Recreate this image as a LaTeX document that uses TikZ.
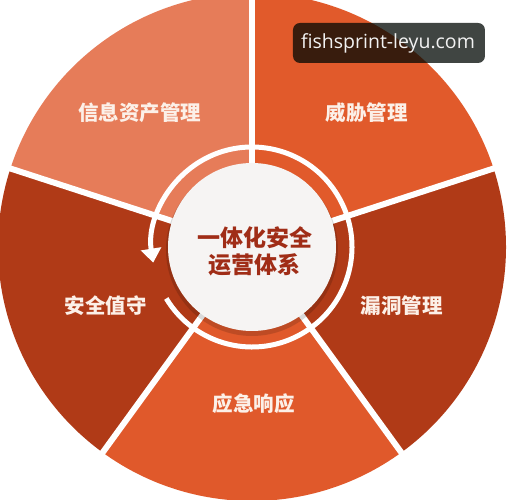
\documentclass[tikz,border=0pt]{standalone}
\usepackage{fontspec}
\newfontfamily\cjk{Noto Sans CJK SC}
\newfontfamily\wmfont{Open Sans}
\usetikzlibrary{arrows.meta}
\definecolor{segA}{HTML}{E67C59}
\definecolor{segB}{HTML}{E15A2B}
\definecolor{segC}{HTML}{B03A17}
\definecolor{segD}{HTML}{E0592B}
\definecolor{segE}{HTML}{B03A17}
\definecolor{labelc}{HTML}{FCF0E8}
\definecolor{centerc}{HTML}{A02D17}
\definecolor{hub}{HTML}{F6F4F3}
\definecolor{wmbg}{HTML}{000803}
\tikzset{
  seglabel/.style={text=labelc, font=\cjk\bfseries\fontsize{20.5}{22}\selectfont, inner sep=0pt},
  centerlabel/.style={text=centerc, font=\cjk\bfseries\fontsize{23}{27}\selectfont, align=center, inner sep=0pt},
  gapline/.style={white, line width=6pt},
  ringline/.style={white, line width=5pt},
}
\begin{document}
\begin{tikzpicture}[x=1pt,y=1pt]
\useasboundingbox (-252,-253) rectangle (255,247);
\clip (-252,-253) rectangle (255,247);
\fill[white] (-252,-253) rectangle (255,247);
% sectors
\fill[segA] (0,0) -- (90:254) arc[start angle=90, end angle=162, radius=254] -- cycle;
\fill[segB] (0,0) -- (18:254) arc[start angle=18, end angle=90, radius=254] -- cycle;
\fill[segC] (0,0) -- (-54:254) arc[start angle=-54, end angle=18, radius=254] -- cycle;
\fill[segD] (0,0) -- (234:254) arc[start angle=234, end angle=306, radius=254] -- cycle;
\fill[segE] (0,0) -- (162:254) arc[start angle=162, end angle=234, radius=254] -- cycle;
% gaps
\coordinate (o) at (0,0);
\foreach \a/\n in {90/g1,162/g2,234/g3,306/g4,18/g5} {
  \coordinate (\n) at (\a:262);
  \draw[gapline] (o) -- (\n);
}
% ring with arrow
\draw[ringline, -{Triangle[width=20pt,length=14pt]}] (211:100) arc[start angle=211, end angle=549, radius=100];
% hub
\fill[black, opacity=0.15] (0,-3) circle (86);
\fill[hub] (0,0) circle (84);
\node[centerlabel] (center) at (3,-4) {一体化安全\\运营体系};
% labels
\node[seglabel] (l1) at (-112,134) {信息资产管理};
\node[seglabel] (l2) at (115,134) {威胁管理};
\node[seglabel] (l3) at (150,-59) {漏洞管理};
\node[seglabel] (l4) at (2,-157) {应急响应};
\node[seglabel] (l5) at (-146,-59) {安全值守};
% watermark
\fill[wmbg, opacity=0.75, rounded corners=7pt] (41,224) rectangle (233,184);
\node[text=white!90!gray, font=\wmfont\fontsize{19.5}{21}\selectfont, inner sep=0pt] (wm) at (136,204) {fishsprint-leyu.com};
\end{tikzpicture}
\end{document}
